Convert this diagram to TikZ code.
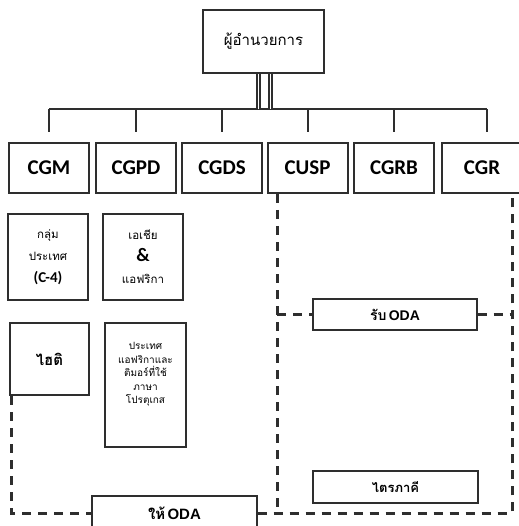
\documentclass[tikz,border=0pt]{standalone}
\usepackage{fontspec}
\setmainfont{Carlito}
\newfontfamily\thaifont[Script=Thai]{Loma}
\newfontfamily\odafont{Liberation Sans}
\usetikzlibrary{calc}
\definecolor{inkgray}{HTML}{2E2E2E}
\tikzset{
  orgline/.style={draw=inkgray, line width=2pt},
  unitbox/.style={draw=inkgray, line width=2pt, minimum width=80pt, minimum height=50pt,
    inner sep=0pt, font=\fontsize{21}{21}\selectfont\bfseries},
  subbox/.style={draw=inkgray, line width=2pt, inner sep=0pt, align=center},
  odabox/.style={draw=inkgray, line width=1.2pt, inner sep=0pt},
  grouprule/.style={draw=inkgray, line width=3pt, dash pattern=on 9pt off 7pt},
}

\begin{document}
\begin{tikzpicture}[x=1pt, y=-1pt]
  \useasboundingbox (0,0) rectangle (518,526);

  % director
  \node[subbox, minimum width=121pt, minimum height=63pt,
        font=\thaifont\fontsize{15}{18}\selectfont] (boss) at (263.5,41.5) {ผู้อำนวยการ};

  % units
  \node[unitbox] (cgm)  at (49,168)  {CGM};
  \node[unitbox] (cgpd) at (136,168) {CGPD};
  \node[unitbox] (cgds) at (222,168) {CGDS};
  \node[unitbox] (cusp) at (307.5,168) {CUSP};
  \node[unitbox] (cgrb) at (394,168) {CGRB};
  \node[unitbox] (cgr)  at (482,168) {CGR};

  % bus
  \coordinate (bus) at (0,109);
  \draw[orgline] (cgm.north |- bus) -- ($(cgr.north |- bus)+(5,0)$);
  \foreach \n in {cgm,cgpd,cgds,cusp,cgrb}
    \draw[orgline] ($(\n.north)+(0,-10)$) -- (\n.north |- bus);
  \draw[orgline] ($(cgr.north)+(5,-10)$) -- ($(cgr.north |- bus)+(5,0)$);
  \draw[orgline, line width=1.6pt, double=white, double distance=1pt]
    ($(boss.south)+(-5,0)$) -- ($(boss.south |- bus)+(-5,0)$);
  \draw[orgline, line width=1.6pt, double=white, double distance=1pt]
    ($(boss.south)+(7,0)$) -- ($(boss.south |- bus)+(7,0)$);

  % sub units
  \node[subbox, minimum width=80pt, minimum height=86pt,
        font=\thaifont\fontsize{11.5}{22}\selectfont] (cfour) at (48,257)
    {กลุ่ม\\ประเทศ\\{\rmfamily\bfseries\fontsize{15}{16}\selectfont (C-4)}};
  \node[subbox, minimum width=80pt, minimum height=86pt,
        font=\thaifont\fontsize{11.5}{22}\selectfont] (asia) at (143,257)
    {เอเชีย\\{\rmfamily\bfseries\fontsize{19}{16}\selectfont \&}\\แอฟริกา};
  \node[subbox, minimum width=79pt, minimum height=72pt,
        font=\thaifont\bfseries\fontsize{15}{17}\selectfont] (haiti) at (49.5,359) {ไฮติ};
  \node[subbox, minimum width=81pt, minimum height=124pt,
        font=\thaifont\fontsize{10}{13.5}\selectfont] (palop) at (145.5,385)
    {ประเทศ\\แอฟริกาและ\\ติมอร์ที่ใช้\\ภาษา\\โปรตุเกส\\[10pt]};

  % ODA boxes
  \node[odabox, minimum width=164pt, minimum height=31pt] (recv) at (395,314.5)
    {{\thaifont\bfseries\fontsize{14}{16}\selectfont รับ} {\odafont\bfseries\fontsize{14}{16}\selectfont ODA}};
  \node[odabox, minimum width=165pt, minimum height=32pt,
        font=\thaifont\bfseries\fontsize{13}{15}\selectfont] (tri) at (395.5,487) {ไตรภาคี};
  \node[odabox, minimum width=165pt, minimum height=34pt] (give) at (174.5,513)
    {{\thaifont\bfseries\fontsize{15}{17}\selectfont ให้} {\odafont\bfseries\fontsize{15}{17}\selectfont ODA}};

  % dashed groups
  \coordinate (ltop) at ($(cusp.south west)+(10.5,0)$);
  \coordinate (rtop) at ($(cgr.south east)+(-11,0)$);
  \draw[grouprule] ($(haiti.south west)+(2,0)$) |- (give.west);
  \draw[grouprule] (ltop) -- (ltop |- give.east);
  \draw[grouprule] (give.east) -| (rtop);
  \draw[grouprule] (ltop |- recv.west) -- (recv.west);
  \draw[grouprule] (recv.east) -- (rtop |- recv.east);
\end{tikzpicture}
\end{document}
